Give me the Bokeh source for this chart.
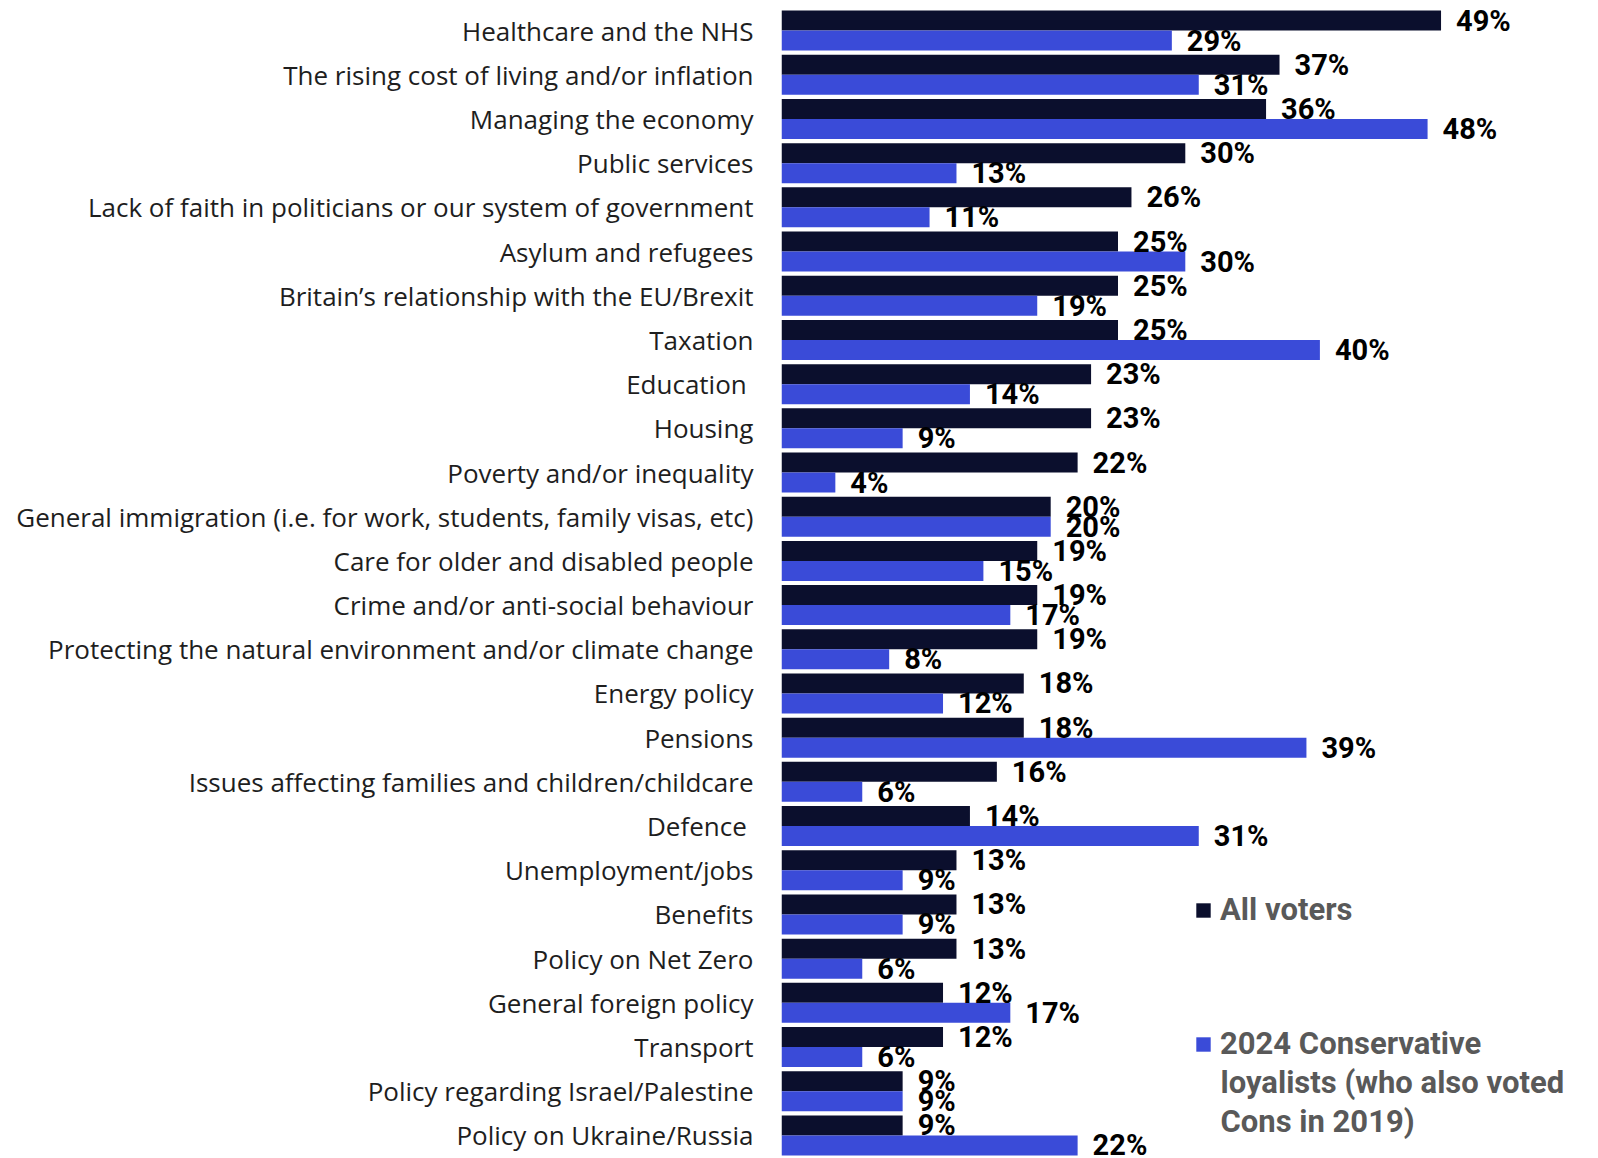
from bokeh.plotting import figure
from bokeh.models import ColumnDataSource, Legend, LegendItem, FactorRange, Label
from bokeh.transform import dodge
from bokeh.core.properties import value
from bokeh.embed import file_html
from bokeh.resources import INLINE

categories = [
    "Healthcare and the NHS",
    "The rising cost of living and/or inflation",
    "Managing the economy",
    "Public services",
    "Lack of faith in politicians or our system of government",
    "Asylum and refugees",
    "Britain\u2019s relationship with the EU/Brexit",
    "Taxation",
    "Education ",
    "Housing",
    "Poverty and/or inequality",
    "General immigration (i.e. for work, students, family visas, etc)",
    "Care for older and disabled people",
    "Crime and/or anti-social behaviour",
    "Protecting the natural environment and/or climate change",
    "Energy policy",
    "Pensions",
    "Issues affecting families and children/childcare",
    "Defence ",
    "Unemployment/jobs",
    "Benefits",
    "Policy on Net Zero",
    "General foreign policy",
    "Transport",
    "Policy regarding Israel/Palestine",
    "Policy on Ukraine/Russia",
]
all_voters = [49, 37, 36, 30, 26, 25, 25, 25, 23, 23, 22, 20, 19, 19, 19, 18, 18, 16, 14, 13, 13, 13, 12, 12, 9, 9]
con_loyalists = [29, 31, 48, 13, 11, 30, 19, 40, 14, 9, 4, 20, 15, 17, 8, 12, 39, 6, 31, 9, 9, 6, 17, 6, 9, 22]
series_names = ["All voters", "2024 Conservative"]
series2_extra_lines = ["loyalists (who also voted", "Cons in 2019)"]

DARK = "#0B0F2D"
BLUE = "#3A4BD8"

src = ColumnDataSource(dict(
    cat=categories,
    a=all_voters,
    b=con_loyalists,
    a_lbl=[f"{v}%" for v in all_voters],
    b_lbl=[f"{v}%" for v in con_loyalists],
))

W, H = 1598, 1158
LEFT = 781
TOP = 8
BOTTOM = 1

p = figure(
    width=W, height=H,
    y_range=FactorRange(factors=list(reversed(categories))),
    x_range=(0, (W - LEFT) / 13.46),
    output_backend="svg", toolbar_location=None,
    min_border_left=LEFT, min_border_right=0, min_border_top=TOP, min_border_bottom=BOTTOM,
)
p.xaxis.visible = False
p.xgrid.visible = False
p.ygrid.visible = False
p.outline_line_color = None

off = 0.2262
hh = 0.4525
r1 = p.hbar(y=dodge("cat", off, range=p.y_range), right="a", left=0, height=hh,
            source=src, fill_color=DARK, line_color=None)
r2 = p.hbar(y=dodge("cat", -off, range=p.y_range), right="b", left=0, height=hh,
            source=src, fill_color=BLUE, line_color=None)

lbl_kw = dict(text_font=value("Roboto"), text_font_style="bold", text_font_size="29px",
              text_color="#000000", text_baseline="middle", text_align="left",
              x_offset=15, y_offset=0, source=src)
p.text(x="a", y=dodge("cat", off, range=p.y_range), text="a_lbl", **lbl_kw)
p.text(x="b", y=dodge("cat", -off, range=p.y_range), text="b_lbl", **lbl_kw)

ax = p.yaxis[0]
ax.axis_line_color = None
ax.major_tick_line_color = None
ax.minor_tick_line_color = None
ax.major_tick_out = 0
ax.major_tick_in = 0
ax.major_label_standoff = 28
ax.major_label_text_font = "Open Sans"
ax.major_label_text_font_size = "26px"
ax.major_label_text_color = "#1E1E1E"

LEG_FONT = "31px"
LEG_COLOR = "#595959"
leg_kw = dict(border_line_color=None, background_fill_alpha=0, padding=0, margin=0,
              glyph_width=18, glyph_height=18, label_standoff=8,
              label_text_font="Roboto", label_text_font_style="bold",
              label_text_font_size=LEG_FONT, label_text_color=LEG_COLOR)
leg1 = Legend(items=[LegendItem(label=series_names[0], renderers=[r1])],
              location=(413, 229), **leg_kw)
leg2 = Legend(items=[LegendItem(label=series_names[1], renderers=[r2])],
              location=(413, 95), **leg_kw)
p.add_layout(leg1)
p.add_layout(leg2)

for i, line in enumerate(series2_extra_lines):
    p.add_layout(Label(x=439, y=75 - 39 * i, x_units="screen", y_units="screen",
                       text=line, text_font="Roboto", text_font_style="bold",
                       text_font_size=LEG_FONT, text_color=LEG_COLOR,
                       text_baseline="alphabetic", text_align="left"))

open("out.html", "w").write(file_html(p, INLINE))
